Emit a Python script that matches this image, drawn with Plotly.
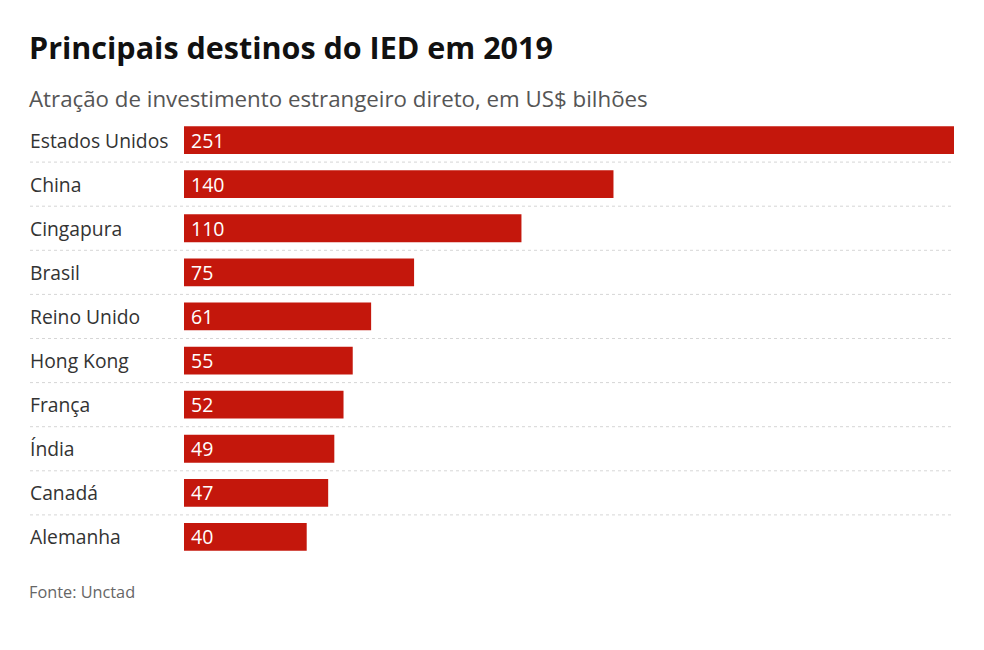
import plotly.graph_objects as go

# Data
paises = ["Estados Unidos", "China", "Cingapura", "Brasil", "Reino Unido",
          "Hong Kong", "França", "Índia", "Canadá", "Alemanha"]
valores = [251, 140, 110, 75, 61, 55, 52, 49, 47, 40]

titulo = "Principais destinos do IED em 2019"
subtitulo = "Atração de investimento estrangeiro direto, em US$ bilhões"
fonte = "Fonte: Unctad"

W, H = 984, 650
OFF = 8  # page margin of the browser body
L, R, T, B = 184 - OFF, 30 + OFF, 118 - OFF, 91 + OFF
pw = W - L - R
ph = H - T - B


def px_x(x):
    return (x - OFF - L) / pw


def px_y(y):
    return (H - B - (y - OFF)) / ph


label_x = px_x(28)

fig = go.Figure()

fig.add_trace(
    go.Bar(
        x=valores,
        y=paises,
        orientation="h",
        marker=dict(color="#c4170c", line=dict(width=0)),
        width=0.63,
        hoverinfo="skip",
    )
)

# Value labels inside the bars
for p, v in zip(paises, valores):
    fig.add_annotation(
        x=0, y=p, xref="x", yref="y", text=str(v),
        showarrow=False, xanchor="left", yanchor="middle", xshift=5,
        font=dict(family="Open Sans", size=19.5, color="white"),
    )

# Country labels, left aligned
for p in paises:
    fig.add_annotation(
        x=label_x, y=p, xref="paper", yref="y",
        text=p, showarrow=False, xanchor="left", yanchor="middle",
        font=dict(family="Open Sans", size=19.3, color="#333333"),
    )

# Dotted separators between rows
for i in range(len(paises) - 1):
    fig.add_shape(
        type="line", xref="paper", yref="y",
        x0=px_x(30), x1=1, y0=i + 0.5, y1=i + 0.5,
        line=dict(color="#d6d6d6", width=1, dash="dot"),
    )

fig.add_annotation(
    x=px_x(27), y=px_y(47), xref="paper", yref="paper", text=f"<b>{titulo}</b>",
    showarrow=False, xanchor="left", yanchor="middle",
    font=dict(family="Open Sans", size=30.5, color="#111111"),
)
fig.add_annotation(
    x=px_x(27), y=px_y(98), xref="paper", yref="paper", text=subtitulo,
    showarrow=False, xanchor="left", yanchor="middle",
    font=dict(family="Open Sans", size=22.3, color="#555555"),
)
fig.add_annotation(
    x=px_x(27), y=px_y(592), xref="paper", yref="paper", text=fonte,
    showarrow=False, xanchor="left", yanchor="middle",
    font=dict(family="Open Sans", size=16.3, color="#666666"),
)

fig.update_layout(
    width=W,
    height=H,
    margin=dict(l=L, r=R, t=T, b=B),
    paper_bgcolor="white",
    plot_bgcolor="white",
    showlegend=False,
    xaxis=dict(range=[0, 251], visible=False, fixedrange=True),
    yaxis=dict(
        categoryorder="array", categoryarray=paises, autorange="reversed",
        showticklabels=False, showgrid=False, zeroline=False, fixedrange=True,
    ),
)

fig.write_html("out.html")
